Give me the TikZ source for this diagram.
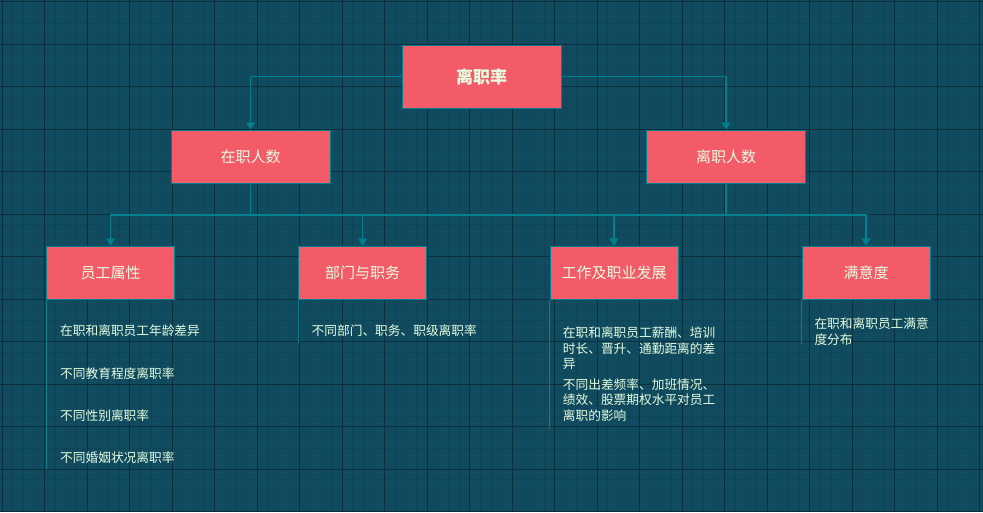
\documentclass[tikz,border=0pt]{standalone}
\usepackage{fontspec}
\setmainfont{Noto Sans CJK SC}
\definecolor{bgteal}{HTML}{114B5F}
\definecolor{boxred}{HTML}{F45B69}
\definecolor{edgeteal}{HTML}{028090}
\definecolor{txtpale}{HTML}{E4FDE1}
\usetikzlibrary{arrows.meta,positioning}

\begin{document}
\begin{tikzpicture}[x=1pt, y=-1pt,
  minorgrid/.style={draw=bgteal!92!black, line width=0.5pt},
  majorgrid/.style={draw=bgteal!62!black, line width=1pt},
  rootbox/.style={draw=edgeteal, fill=boxred, line width=1pt, minimum width=159pt, minimum height=63pt, font=\fontsize{17}{20}\selectfont\bfseries, text=txtpale},
  midbox/.style={draw=edgeteal, fill=boxred, line width=1pt, minimum width=159pt, minimum height=53pt, font=\fontsize{15}{18}\selectfont, text=txtpale},
  leafbox/.style={draw=edgeteal, fill=boxred, line width=1pt, minimum width=128pt, minimum height=53pt, font=\fontsize{15}{18}\selectfont, text=txtpale},
  item/.style={anchor=west, inner sep=0pt, align=left, font=\fontsize{12.7}{15.7}\selectfont, text=txtpale},
  edge/.style={draw=edgeteal, line width=1.2pt, -{Triangle[width=9pt,length=7pt]}},
  rail/.style={draw=edgeteal, line width=1pt}]
  % background and grid
  \fill[bgteal] (0,0) rectangle (983,512);
  \begin{scope}
    \clip (0,0) rectangle (983,512);
    \foreach \i in {0,...,92} \draw[minorgrid] ({2+\i*10.625},0) -- ++(0,512);
    \foreach \i in {0,...,48} \draw[minorgrid] (0,{1.5+\i*10.625}) -- ++(983,0);
    \foreach \i in {0,...,23} \draw[majorgrid] ({2+\i*42.5},0) -- ++(0,512);
    \foreach \i in {0,...,12} \draw[majorgrid] (0,{1.5+\i*42.5}) -- ++(983,0);
  \end{scope}

  % boxes
  \node[rootbox] (lzl) at (481.5,76.5) {离职率};
  \node[midbox] (zzrs) at (250.5,156.5) {在职人数};
  \node[midbox] (lzrs) at (726,156.5) {离职人数};
  \node[leafbox] (ygsx) at (110.5,272.5) {员工属性};
  \node[leafbox] (bmzw) at (362.5,272.5) {部门与职务};
  \node[leafbox] (zyfz) at (614,272.5) {工作及职业发展};
  \node[leafbox] (myd) at (866,272.5) {满意度};

  % connectors
  \coordinate (zzbus) at (250.5,215);
  \coordinate (lzbus) at (726,215);
  \draw[edge] (lzl.west) -| (zzrs.north);
  \draw[edge] (lzl.east) -| (lzrs.north);
  \draw[edge] (zzrs.south) -- (zzbus) -| (ygsx.north);
  \draw[edge] (zzrs.south) -- (zzbus) -| (bmzw.north);
  \draw[edge] (zzrs.south) -- (zzbus) -| (zyfz.north);
  \draw[edge] (lzrs.south) -- (lzbus) -| (zyfz.north);
  \draw[edge] (lzrs.south) -- (lzbus) -| (myd.north);

  % item rails
  \draw[rail] (ygsx.south west) -- ++(0,169);
  \draw[rail] (bmzw.south west) -- ++(0,43);
  \draw[rail] (zyfz.south west) -- ++(0,129);
  \draw[rail] (myd.south west) -- ++(0,44);

  % items
  \node[item] (yg1) at (60,330.7) {在职和离职员工年龄差异};
  \node[item] (yg2) at (60,374) {不同教育程度离职率};
  \node[item] (yg3) at (60,416) {不同性别离职率};
  \node[item] (yg4) at (60,458) {不同婚姻状况离职率};
  \node[item] (bm1) at (311.5,330.7) {不同部门、职务、职级离职率};
  \node[item] (zy1) at (562.7,348.3) {在职和离职员工薪酬、培训\\时长、晋升、通勤距离的差\\异};
  \node[item] (zy2) at (562.7,400) {不同出差频率、加班情况、\\绩效、股票期权水平对员工\\离职的影响};
  \node[item] (my1) at (814.3,331.7) {在职和离职员工满意\\度分布};
\end{tikzpicture}
\end{document}
